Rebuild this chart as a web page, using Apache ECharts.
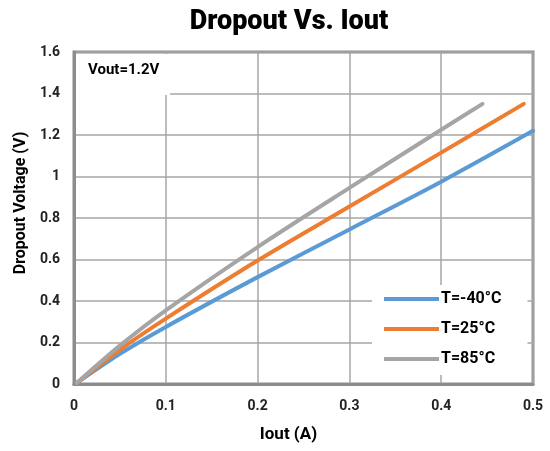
<!DOCTYPE html>
<html><head><meta charset="utf-8">
<script src="https://cdn.jsdelivr.net/npm/echarts@6/dist/echarts.min.js"></script>
<style>html,body{margin:0;padding:0;background:#fff}#c{width:550px;height:451px}</style>
</head><body><div id="c"></div>
<script>
const xTicks = [0, 0.1, 0.2, 0.3, 0.4, 0.5];
const yTicks = [0, 0.2, 0.4, 0.6, 0.8, 1, 1.2, 1.4, 1.6];
const seriesNames = ['T=-40°C', 'T=25°C', 'T=85°C'];
const iM40 = [0.003, 0.05, 0.1, 0.2, 0.3, 0.4, 0.5];
const vM40 = [0.005, 0.145, 0.275, 0.515, 0.745, 0.975, 1.22];
const i25 = [0.003, 0.05, 0.1, 0.2, 0.3, 0.4, 0.49];
const v25 = [0.005, 0.165, 0.315, 0.595, 0.855, 1.115, 1.35];
const i85 = [0.003, 0.05, 0.1, 0.2, 0.3, 0.4, 0.445];
const v85 = [0.005, 0.185, 0.355, 0.66, 0.945, 1.225, 1.35];
const colors = ['#5b9bd5', '#ed7d31', '#a5a5a5'];
const FONT = 'Roboto, "Liberation Sans", sans-serif';

const pair = (xs, ys) => xs.map((x, i) => [x, ys[i]]);
const data = [pair(iM40, vM40), pair(i25, v25), pair(i85, v85)];

const chart = echarts.init(document.getElementById('c'));
chart.setOption({
  animation: false,
  title: {
    text: 'Dropout Vs. Iout', left: 284, top: 4, textAlign: 'center',
    textStyle: {fontFamily: FONT, fontWeight: 900, fontSize: 27, color: '#000'}
  },
  grid: {left: 74, right: 17, top: 52, bottom: 67, show: true, borderColor: '#8c8c8c', borderWidth: 3, backgroundColor: 'transparent'},
  xAxis: {
    type: 'value', min: 0, max: 0.5, interval: 0.1,
    name: 'Iout (A)', nameLocation: 'middle', nameGap: 42,
    nameTextStyle: {fontFamily: FONT, fontWeight: 'bold', fontSize: 17, color: '#000', padding: [0, 30, 0, 0]},
    axisLine: {show: true, lineStyle: {color: '#8c8c8c', width: 3}},
    axisTick: {show: false},
    splitLine: {show: true, lineStyle: {color: '#a6a6a6', width: 1.5}},
    axisLabel: {fontFamily: FONT, fontWeight: 'bold', fontSize: 14, color: '#222', margin: 15,
      formatter: v => String(xTicks.find(t => Math.abs(t - v) < 1e-9) ?? v)}
  },
  yAxis: {
    type: 'value', min: 0, max: 1.6, interval: 0.2,
    name: 'Dropout Voltage (V)', nameLocation: 'middle', nameGap: 45,
    nameTextStyle: {fontFamily: FONT, fontWeight: 'bold', fontSize: 16, color: '#000', padding: [0, 0, 0, 30]},
    axisLine: {show: true, lineStyle: {color: '#8c8c8c', width: 3}},
    axisTick: {show: false},
    splitLine: {show: true, lineStyle: {color: '#a6a6a6', width: 1.5}},
    axisLabel: {fontFamily: FONT, fontWeight: 'bold', fontSize: 14, color: '#222', margin: 14,
      formatter: v => String(yTicks.find(t => Math.abs(t - v) < 1e-9) ?? v)}
  },
  legend: {
    data: seriesNames, orient: 'vertical', left: 372, top: 285,
    backgroundColor: '#fff', padding: [6, 26, 8, 12],
    itemWidth: 55, itemHeight: 4, itemGap: 14, icon: 'rect',
    textStyle: {fontFamily: FONT, fontWeight: 'bold', fontSize: 16, color: '#000', padding: [0, 0, 0, -3]}
  },
  graphic: [
    {type: 'rect', left: 76, top: 54, shape: {width: 94, height: 41}, style: {fill: '#fff'}, z: 10},
    {type: 'text', left: 88, top: 63, style: {text: 'Vout=1.2V', font: 'bold 15px Roboto, "Liberation Sans", sans-serif', fill: '#000'}, z: 11}
  ],
  series: data.map((d, i) => ({
    name: seriesNames[i], type: 'line', data: d, smooth: 0.3, showSymbol: false,
    lineStyle: {color: colors[i], width: 4, cap: 'round'}, itemStyle: {color: colors[i]}
  }))
});
</script></body></html>
